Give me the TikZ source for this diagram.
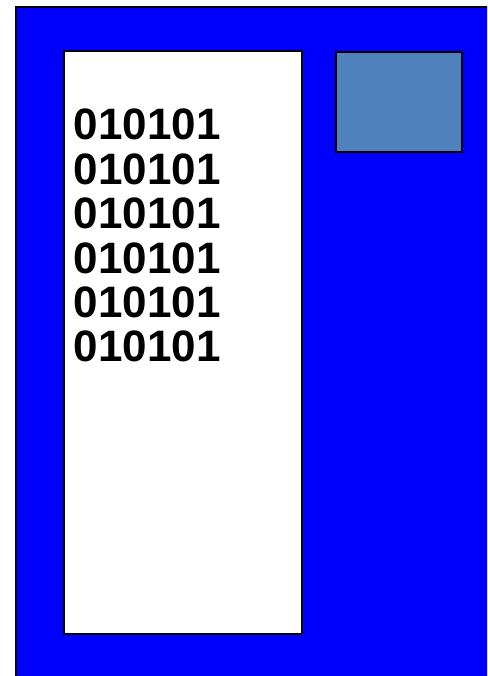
\documentclass[tikz,border=0pt]{standalone}
\usepackage{fontspec}
\setmainfont{Liberation Sans}
\usetikzlibrary{positioning}
\definecolor{panelblue}{HTML}{0000FF}
\definecolor{chipblue}{HTML}{4F81BD}
\tikzset{
  panel/.style={draw=black, line width=2pt, fill=panelblue, inner sep=0pt},
  screen/.style={draw=black, line width=2pt, fill=white, inner sep=0pt,
                 minimum width=238pt, minimum height=583pt},
  chip/.style={draw=black, line width=2pt, fill=chipblue, inner sep=0pt,
               minimum width=126pt, minimum height=100pt},
  bits/.style={inner sep=0pt, align=left, text=black,
               font=\fontsize{44}{44.4}\selectfont\bfseries},
}

\begin{document}
\begin{tikzpicture}[x=1pt, y=-1pt]

\useasboundingbox (0,0) rectangle (487,676);
\clip (0,0) rectangle (487,676);

% ---- outer casing (runs off right and bottom) ----
\node[panel, anchor=north west, minimum width=490pt, minimum height=690pt] (casing) at (15,6) {};

% ---- white screen with the data ----
\node[screen, anchor=north west] (display) at (63,50) {};
\node[bits, anchor=north west] (data) at (73.5,109)
   {010101\\010101\\010101\\010101\\010101\\010101};

% ---- small box, top right ----
\node[chip, anchor=north west] (module) at (335,51) {};

\end{tikzpicture}
\end{document}
